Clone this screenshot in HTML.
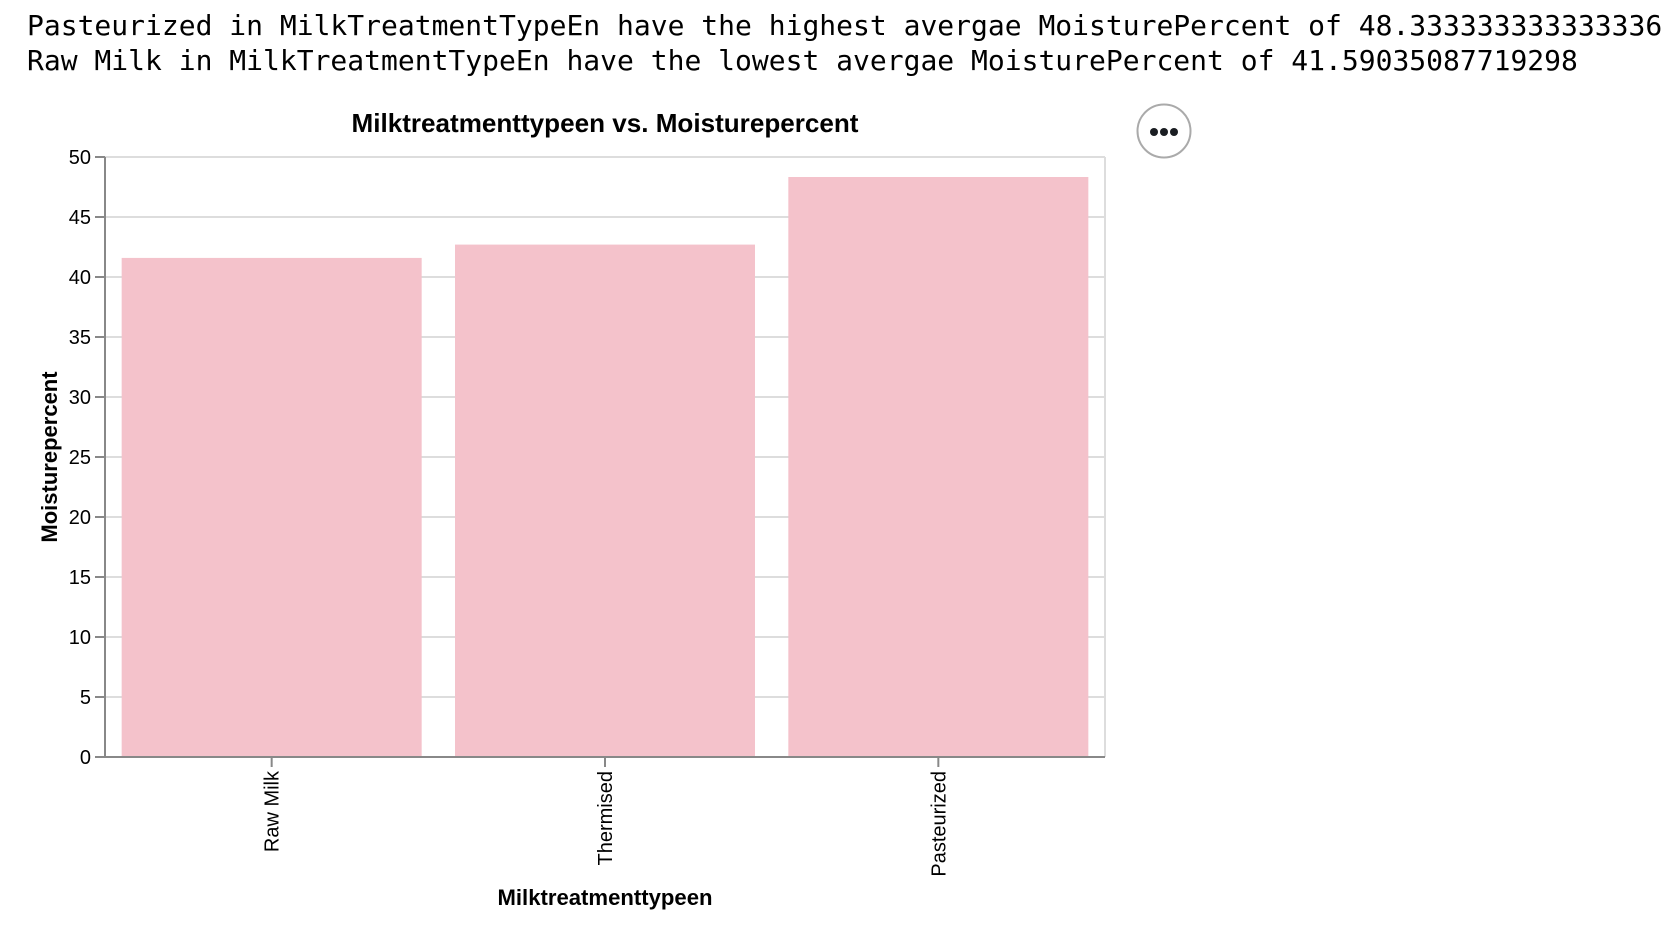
<!DOCTYPE html>
<html><head><meta charset="utf-8"><style>
body{margin:0;background:#fff;width:1680px;height:938px;overflow:hidden;position:relative}
#msg{position:absolute;left:27px;top:8px;font-family:"DejaVu Sans Mono","Liberation Mono",monospace;font-size:28px;line-height:35px;color:#000;white-space:pre}
svg{position:absolute;left:0;top:0}
</style></head><body>
<div id="msg">Pasteurized in MilkTreatmentTypeEn have the highest avergae MoisturePercent of 48.333333333333336
Raw Milk in MilkTreatmentTypeEn have the lowest avergae MoisturePercent of 41.59035087719298</div>
<svg id="chart" width="1680" height="938"></svg>
<script>
const categories = ["Raw Milk", "Thermised", "Pasteurized"];
const values = [41.59035087719298, 42.7, 48.333333333333336];
const yTicks = [0, 5, 10, 15, 20, 25, 30, 35, 40, 45, 50];

const NS = "http://www.w3.org/2000/svg";
const svg = document.getElementById("chart");
const L = 105, R = 1105, T = 157, B = 757;
const yMax = 50;
function y(v){ return B - (v / yMax) * (B - T); }
const step = (R - L) / (categories.length);
const bw = step * 0.9;
function x(i){ return L + step * 0.05 + i * step; }
function mk(tag, attrs, parent){ const e = document.createElementNS(NS, tag); for (const k in attrs) e.setAttribute(k, attrs[k]); (parent || svg).appendChild(e); return e; }

yTicks.forEach(t => {
  const g = mk("line", {x1:L, x2:R, y1:y(t), y2:y(t), stroke:"#ddd", "stroke-width":2});
  
  
});
const border = mk("line", {x1:R, x2:R, y1:T, y2:B, stroke:"#ddd", "stroke-width":2});



categories.forEach((c, i) => {
  const r = mk("rect", {x:x(i), y:y(values[i]), width:bw, height:B - y(values[i]), fill:"#f4c2cb"});
  
  
  const cx = x(i) + bw / 2;
  const tk = mk("line", {x1:cx, x2:cx, y1:B, y2:B + 10, stroke:"#888", "stroke-width":2});
  
  
  const lb = mk("text", {transform:`translate(${cx + 7},${B + 14}) rotate(-90)`, "text-anchor":"end", "font-family":"Liberation Sans, sans-serif", "font-size":20, fill:"#000"});
  lb.textContent = c;
  
  
});

yTicks.forEach(t => {
  const tk = mk("line", {x1:L - 10, x2:L, y1:y(t), y2:y(t), stroke:"#888", "stroke-width":2});
  
  
  const lb = mk("text", {x:L - 14, y:y(t) + 7, "text-anchor":"end", "font-family":"Liberation Sans, sans-serif", "font-size":20, fill:"#000"});
  lb.textContent = t;
  
  
});

const xa = mk("line", {x1:L, x2:R, y1:B, y2:B, stroke:"#888", "stroke-width":2});


const ya = mk("line", {x1:L, x2:L, y1:T, y2:B, stroke:"#888", "stroke-width":2});



const title = mk("text", {x:(L + R) / 2, y:132, "text-anchor":"middle", "font-family":"Liberation Sans, sans-serif", "font-weight":"bold", "font-size":26, textLength:507, lengthAdjust:"spacingAndGlyphs"});
title.textContent = "Milktreatmenttypeen vs. Moisturepercent";



const xt = mk("text", {x:(L + R) / 2, y:905, "text-anchor":"middle", "font-family":"Liberation Sans, sans-serif", "font-weight":"bold", "font-size":22, textLength:215, lengthAdjust:"spacingAndGlyphs"});
xt.textContent = "Milktreatmenttypeen";



const yt = mk("text", {transform:`translate(57,${(T + B) / 2}) rotate(-90)`, "text-anchor":"middle", "font-family":"Liberation Sans, sans-serif", "font-weight":"bold", "font-size":22});
yt.textContent = "Moisturepercent";



const btn = mk("g", {});


mk("circle", {cx:1164, cy:131, r:26.5, fill:"#fff", stroke:"#aaa", "stroke-width":2}, btn);
[-10, 0, 10].forEach(d => mk("circle", {cx:1164 + d, cy:132, r:4, fill:"#1b1e23"}, btn));
</script>
</body></html>
